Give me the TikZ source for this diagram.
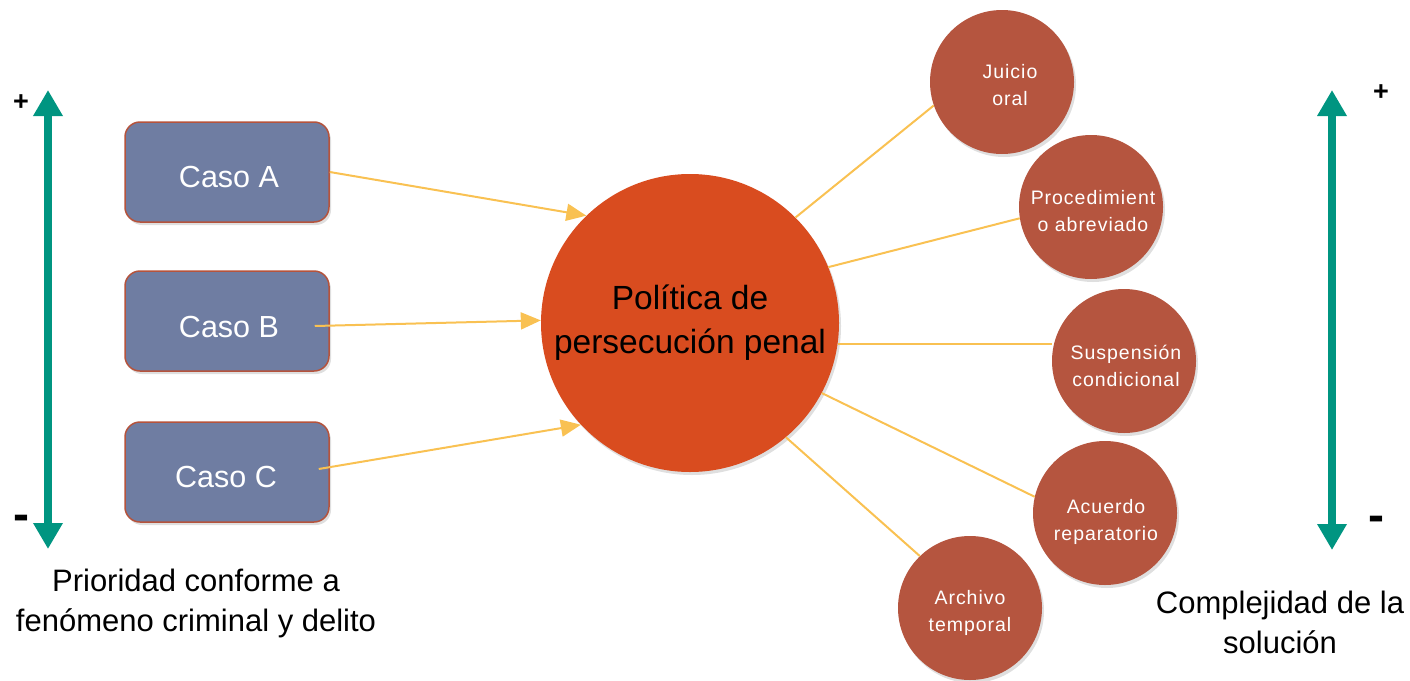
\documentclass[tikz,border=0pt]{standalone}
\usepackage{fontspec}
\setmainfont{Liberation Sans}
\usetikzlibrary{arrows.meta,shadows}
\definecolor{boxfill}{HTML}{6F7DA2}
\definecolor{boxedge}{HTML}{B5533C}
\definecolor{bigfill}{HTML}{D94C1F}
\definecolor{smallfill}{HTML}{B5553F}
\definecolor{linkcol}{HTML}{F9C152}
\definecolor{tealcol}{HTML}{009581}
\tikzset{
  casebox/.style={draw=boxedge, line width=1.5pt, fill=boxfill, rounded corners=15pt,
    minimum width=204pt, minimum height=100pt, inner sep=0pt, text=white,
    font=\fontsize{30.5}{36}\selectfont,
    drop shadow={opacity=0.25, shadow xshift=2pt, shadow yshift=-3pt}},
  casetext/.style={text=white, inner sep=0pt, font=\fontsize{30.5}{36}\selectfont},
  bigcircle/.style={circle, fill=bigfill, minimum size=298pt, inner sep=0pt, align=center,
    font=\fontsize{33.5}{44}\selectfont,
    drop shadow={opacity=0.25, shadow xshift=2pt, shadow yshift=-3pt}},
  smallcircle/.style={circle, fill=smallfill, minimum size=144pt, inner sep=0pt,
    drop shadow={opacity=0.25, shadow xshift=2pt, shadow yshift=-3pt}},
  smalltext/.style={align=center, text=white, inner sep=0pt,
    font=\addfontfeature{LetterSpace=5}\fontsize{19.5}{27.5}\selectfont},
  link/.style={draw=linkcol, line width=2pt},
  linkarrow/.style={link, -{Triangle[length=20pt,width=17pt]}},
  scalearrow/.style={draw=tealcol, line width=8pt,
    {Triangle[length=26pt,width=28pt]}-{Triangle[length=26pt,width=28pt]}},
  label/.style={align=center, font=\fontsize{31}{40}\selectfont},
  plussign/.style={font=\bfseries\fontsize{27}{30}\selectfont, inner sep=0pt},
  minussign/.style={font=\bfseries\fontsize{48}{50}\selectfont, inner sep=0pt}
}
\begin{document}
\begin{tikzpicture}[x=1pt,y=-1pt]
\useasboundingbox (0,0) rectangle (1410,680);

% scale arrows
\coordinate (ltop) at (48,90);
\coordinate (lbot) at (48,549);
\draw[scalearrow] (lbot) -- (ltop);
\node[plussign] (lplus) at (21,103) {+};
\node[minussign] (lminus) at (21,522.5) {-};

\coordinate (rtop) at (1332,90);
\coordinate (rbot) at (1332,550);
\draw[scalearrow] (rbot) -- (rtop);
\node[plussign] (rplus) at (1381,93) {+};
\node[minussign] (rminus) at (1376,524) {-};

% cases
\node[casebox] (caseA) at (227,172) {};
\node[casetext] (caseAt) at (229,177) {Caso A};
\node[casebox] (caseB) at (227,321) {};
\node[casetext] (caseBt) at (229,327) {Caso B};
\node[casebox] (caseC) at (227,472) {};
\node[casetext] (caseCt) at (226,477) {Caso C};

% central circle
\node[bigcircle] (big) at (690,323) {Política de\\persecución penal};

% outcome circles
\node[smallcircle] (juicio) at (1002,82) {};
\node[smalltext] (juiciot) at (1010,85) {Juicio\\oral};
\node[smallcircle] (proc) at (1091,207) {};
\node[smalltext] (proct) at (1093,211) {Procedimient\\o abreviado};
\node[smallcircle] (susp) at (1124,361) {};
\node[smalltext] (suspt) at (1126,366) {Suspensión\\condicional};
\node[smallcircle] (acuerdo) at (1105,513) {};
\node[smalltext] (acuerdot) at (1106,522) {Acuerdo\\reparatorio};
\node[smallcircle] (archivo) at (970,608) {};
\node[smalltext] (archivot) at (970,613) {Archivo\\temporal};

% arrows from cases
\draw[linkarrow] (caseA.east) -- (big.134);
\draw[linkarrow] ([shift={(-15,5)}]caseB.east) -- (big.179);
\draw[linkarrow] ([shift={(-11,-3)}]caseC.east) -- (big.223);

% links to outcomes
\draw[link] (big.45) -- (juicio.199);
\draw[link] (big.22) -- (proc.189);
\draw[link] (big.-8.5) -- (big.-8.5 -| susp.west);
\draw[link] (big.-28) -- (acuerdo.167.5);
\draw[link] (big.-50) -- (archivo.134.5);

% bottom labels
\node[label] (prio) at (196,603) {Prioridad conforme a\\fenómeno criminal y delito};
\node[label] (comp) at (1280,622) {Complejidad de la\\solución};
\end{tikzpicture}
\end{document}
